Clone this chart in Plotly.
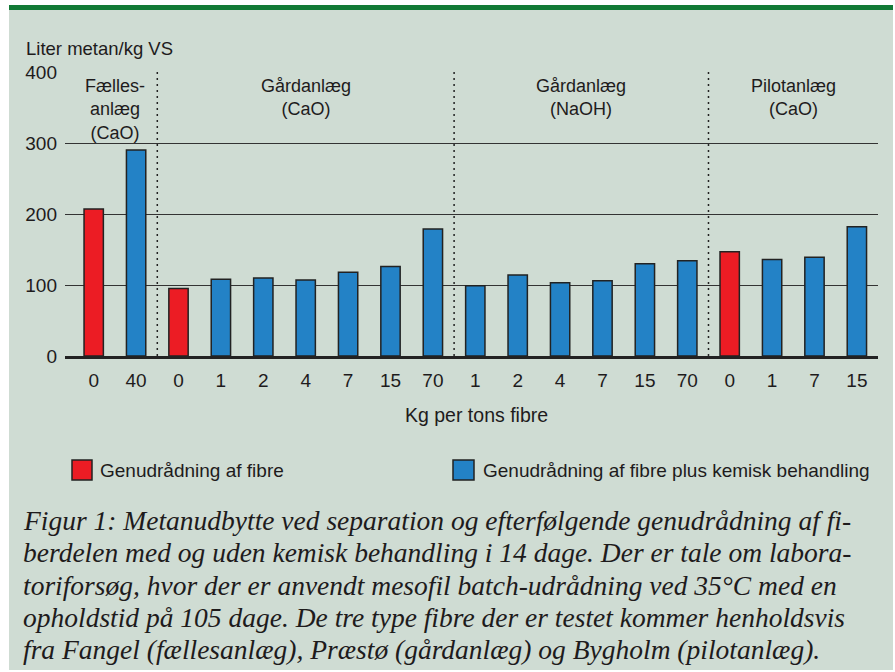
import plotly.graph_objects as go

# ---- data ----
tick_labels = ["0", "40", "0", "1", "2", "4", "7", "15", "70",
               "1", "2", "4", "7", "15", "70", "0", "1", "7", "15"]
values = [207, 290, 95, 108, 110, 107, 118, 126, 179,
          99, 114, 103, 106, 130, 134, 147, 136, 139, 182]
treated = [False, True, False, True, True, True, True, True, True,
           True, True, True, True, True, True, False, True, True, True]
group_names = ["Fælles-<br>anlæg<br>(CaO)", "Gårdanlæg<br>(CaO)",
               "Gårdanlæg<br>(NaOH)", "Pilotanlæg<br>(CaO)"]
group_sizes = [2, 7, 6, 4]
series_names = ["Genudrådning af fibre",
                "Genudrådning af fibre plus kemisk behandling"]
y_title = "Liter metan/kg VS"
x_title = "Kg per tons fibre"
caption_lines = [
    "Figur 1: Metanudbytte ved separation og efterfølgende genudrådning af fi-",
    "berdelen med og uden kemisk behandling i 14 dage. Der er tale om labora-",
    "toriforsøg, hvor der er anvendt mesofil batch-udrådning ved 35°C med en",
    "opholdstid på 105 dage. De tre type fibre der er testet kommer henholdsvis",
    "fra Fangel (fællesanlæg), Præstø (gårdanlæg) og Bygholm (pilotanlæg).",
]

# ---- styling ----
W, H = 895, 672
RED = "#ec1c24"
BLUE = "#2382c6"
BG = "#cfdcd3"
GREEN = "#127a36"
INK = "#1e1b1c"
SANS = "Liberation Sans, Arial, Helvetica, sans-serif"
SERIF = "Liberation Serif, Times New Roman, Times, serif"


def px(x):
    return x / W


def py(y):
    return 1 - y / H


xs = list(range(len(values)))
fig = go.Figure()
for flag, color, name in [(False, RED, series_names[0]), (True, BLUE, series_names[1])]:
    idx = [i for i in xs if treated[i] == flag]
    fig.add_trace(go.Bar(
        x=idx, y=[values[i] for i in idx], name=name,
        marker=dict(color=color, line=dict(color="#222222", width=1.5)),
        width=0.456, showlegend=False,
    ))

shapes = []
# page background and green band
shapes.append(dict(type="rect", xref="paper", yref="paper", layer="below",
                   x0=px(9), x1=px(893), y0=py(670), y1=py(5),
                   fillcolor=BG, line=dict(width=0)))
shapes.append(dict(type="rect", xref="paper", yref="paper", layer="below",
                   x0=px(9), x1=px(893), y0=py(10), y1=py(5),
                   fillcolor=GREEN, line=dict(width=0)))

# group dividers and labels
annotations = []
start = 0
for gi, (gname, size) in enumerate(zip(group_names, group_sizes)):
    center = start + (size - 1) / 2
    annotations.append(dict(x=center, xref="x", y=py(74), yref="paper",
                            text=gname, showarrow=False, xanchor="center",
                            yanchor="top", align="center",
                            font=dict(family=SANS, size=18, color=INK)))
    start += size
    if gi < len(group_sizes) - 1:
        shapes.append(dict(type="line", xref="x", yref="y",
                           x0=start - 0.5, x1=start - 0.5, y0=0, y1=400,
                           line=dict(color="#222222", width=1.5, dash="2px,4px")))

# legend (manual)
leg = [(72, 92, 98, RED, series_names[0]), (453, 474, 481, BLUE, series_names[1])]
for x0, x1, tx, color, name in leg:
    shapes.append(dict(type="rect", xref="paper", yref="paper",
                       x0=px(x0), x1=px(x1), y0=py(480), y1=py(460),
                       fillcolor=color, line=dict(color="#222222", width=1.5)))
    annotations.append(dict(x=px(tx), y=py(470), xref="paper", yref="paper",
                            text=name, showarrow=False, xanchor="left",
                            yanchor="middle",
                            font=dict(family=SANS, size=19, color=INK)))

annotations.append(dict(x=px(24), y=py(49), xref="paper", yref="paper",
                        text=y_title, showarrow=False, xanchor="left",
                        yanchor="middle", font=dict(family=SANS, size=18.5, color=INK)))
annotations.append(dict(x=px(476), y=py(415), xref="paper", yref="paper",
                        text=x_title, showarrow=False, xanchor="center",
                        yanchor="middle", font=dict(family=SANS, size=19.5, color=INK)))

cap_y = [520, 552.5, 585, 617, 649]
for line, yy in zip(caption_lines, cap_y):
    annotations.append(dict(x=px(21), y=py(yy), xref="paper", yref="paper",
                            text="<i>" + line + "</i>", showarrow=False,
                            xanchor="left", yanchor="middle",
                            font=dict(family=SERIF, size=27.5, color=INK)))

fig.update_layout(
    template="none",
    width=W, height=H,
    margin=dict(l=0, r=0, t=0, b=0),
    paper_bgcolor="white", plot_bgcolor="rgba(0,0,0,0)",
    barmode="overlay",
    showlegend=False,
    shapes=shapes,
    annotations=annotations,
    xaxis=dict(domain=[px(65), px(878)], range=[-0.677, 18.498],
               tickvals=xs, ticktext=tick_labels, ticks="",
               tickfont=dict(family=SANS, size=19, color=INK),
               showgrid=False, zeroline=False, showline=True,
               linecolor="#222222", linewidth=3, ticklabelstandoff=5,
               automargin=False, fixedrange=True),
    yaxis=dict(domain=[py(356), py(72)], range=[0, 400],
               tickvals=[0, 100, 200, 300, 400], ticks="",
               tickfont=dict(family=SANS, size=19, color=INK),
               showgrid=True, gridcolor="#333333", gridwidth=1.4,
               zeroline=False, showline=False, ticklabelstandoff=7,
               automargin=False, fixedrange=True),
)

fig.write_html("out.html", config={"displayModeBar": False},
               post_script="document.body.style.margin='0';document.body.style.overflow='hidden';")
